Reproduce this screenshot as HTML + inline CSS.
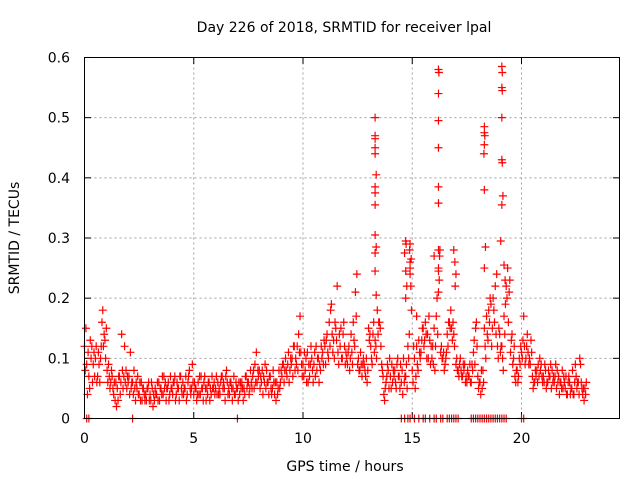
<!DOCTYPE html>
<html><head><meta charset="utf-8"><style>
html,body{margin:0;padding:0;background:#fff;}
svg{display:block;font-family:"DejaVu Sans","Liberation Sans",sans-serif;}
</style></head><body>
<svg id="chart" width="640" height="480" viewBox="0 0 640 480">
<rect width="640" height="480" fill="#fff"/>
<text x="344" y="32" font-size="14" text-anchor="middle">Day 226 of 2018, SRMTID for receiver lpal</text>
<text x="345" y="471" font-size="14" text-anchor="middle">GPS time / hours</text>
<text transform="translate(19,238) rotate(-90)" font-size="14" text-anchor="middle">SRMTID / TECUs</text>
<g id="grid"></g>
<g id="axes"></g>
<g id="marks"></g>
<rect x="84.5" y="57.5" width="535" height="361" fill="none" stroke="#000" stroke-width="1"/>
</svg>
<script>
const xTicks=[0,5,10,15,20];
const yTicks=[0,0.1,0.2,0.3,0.4,0.5,0.6];
const yTickLabels=["0","0.1","0.2","0.3","0.4","0.5","0.6"];
const hours=[0,0.1,0.2,0.3,0.4,0.5,0.6,0.7,0.8,0.9,1,1.1,1.2,1.3,1.4,1.5,1.6,1.7,1.8,1.9,2,2.1,2.2,2.3,2.4,2.5,2.6,2.7,2.8,2.9,3,3.1,3.2,3.3,3.4,3.5,3.6,3.7,3.8,3.9,4,4.1,4.2,4.3,4.4,4.5,4.6,4.7,4.8,4.9,5,5.1,5.2,5.3,5.4,5.5,5.6,5.7,5.8,5.9,6,6.1,6.2,6.3,6.4,6.5,6.6,6.7,6.8,6.9,7,7.1,7.2,7.3,7.4,7.5,7.6,7.7,7.8,7.9,8,8.1,8.2,8.3,8.4,8.5,8.6,8.7,8.8,8.9,9,9.1,9.2,9.3,9.4,9.5,9.6,9.7,9.8,9.9,10,10.1,10.2,10.3,10.4,10.5,10.6,10.7,10.8,10.9,11,11.1,11.2,11.3,11.4,11.5,11.6,11.7,11.8,11.9,12,12.1,12.2,12.3,12.4,12.5,12.6,12.7,12.8,12.9,13,13.1,13.2,13.3,13.4,13.5,13.6,13.7,13.8,13.9,14,14.1,14.2,14.3,14.4,14.5,14.6,14.7,14.8,14.9,15,15.1,15.2,15.3,15.4,15.5,15.6,15.7,15.8,15.9,16,16.1,16.2,16.3,16.4,16.5,16.6,16.7,16.8,16.9,17,17.1,17.2,17.3,17.4,17.5,17.6,17.7,17.8,17.9,18,18.1,18.2,18.3,18.4,18.5,18.6,18.7,18.8,18.9,19,19.1,19.2,19.3,19.4,19.5,19.6,19.7,19.8,19.9,20,20.1,20.2,20.3,20.4,20.5,20.6,20.7,20.8,20.9,21,21.1,21.2,21.3,21.4,21.5,21.6,21.7,21.8,21.9,22,22.1,22.2,22.3,22.4,22.5,22.6,22.7,22.8,22.9];
const tecuA=[.12,.09,.07,.10,.09,.10,.07,.06,.16,.14, .15,.09,.06,.05,.03,.05,.07,.14,.07,.08, .06,.11,.06,.05,.05,.04,.06,.05,.04,.05, .04,.05,.03,.04,.06,.05,.04,.06,.05,.04, .05,.06,.04,.05,.07,.06,.05,.04,.08,.05, .04,.05,.06,.04,.05,.07,.05,.06,.04,.05, .05,.06,.04,.07,.05,.08,.05,.06,.05,.04, .05,.04,.06,.05,.07,.06,.08,.07,.09,.06, .08,.06,.07,.05,.06,.07,.05,.04,.06,.08, .08,.09,.10,.09,.08,.10,.12,.09,.14,.11, .09,.08,.11,.07,.10,.09,.12,.10,.08,.11, .12,.14,.16,.19,.13,.15,.11,.12,.10,.12, .10,.12,.14,.16,.21,.09,.08,.07,.09,.10, .15,.12,.14,.13,.18,.16,.09,.04,.06,.08, .07,.06,.08,.09,.07,.06,.10,.07,.12,.25, .08,.10,.12,.13,.11,.15,.16,.14,.13,.10, .15,.17,.25,.11,.10,.09,.14,.16,.15,.14, .09,.08,.10,.07,.09,.06,.07,.06,.11,.15, .07,.06,.05,.15,.17,.18,.19,.20,.22,.12, .14,.12,.17,.22,.16,.11,.09,.07,.08,.10, .11,.17,.10,.11,.09,.07,.06,.08,.07,.09, .07,.08,.06,.07,.08,.06,.05,.07,.06,.05, .05,.04,.06,.05,.04,.07,.06,.09,.04,.05];
const tecuB=[.08,.04,.05,.12,.11,.12,.11,.10,.18,.13, .08,.07,.08,.04,.06,.03,.04,.08,.12,.05, .07,.05,.04,.03,.07,.06,.03,.04,.03,.06, .03,.02,.05,.06,.03,.04,.07,.03,.06,.07, .04,.07,.06,.03,.05,.04,.07,.06,.05,.09, .06,.03,.04,.07,.03,.05,.04,.03,.07,.06, .07,.04,.06,.05,.03,.06,.04,.05,.07,.06, .03,.06,.05,.04,.05,.04,.06,.08,.06,.08, .05,.08,.06,.08,.04,.05,.08,.06,.04,.05, .07,.06,.08,.11,.10,.07,.08,.12,.11,.09, .07,.10,.06,.09,.08,.11,.08,.06,.12,.09, .09,.11,.12,.14,.10,.13,.09,.15,.14,.09, .09,.08,.11,.13,.17,.10,.11,.09,.08,.06, .13,.10,.16,.12,.14,.15,.08,.03,.07,.05, .05,.08,.06,.10,.05,.08,.06,.09,.10,.22, .06,.05,.09,.11,.13,.12,.14,.10,.09,.12, .08,.20,.23,.12,.11,.10,.12,.15,.13,.12, .10,.07,.08,.09,.06,.08,.09,.09,.13,.16, .05,.04,.08,.12,.14,.16,.12,.18,.14,.10, .11,.10,.14,.20,.21,.13,.10,.06,.06,.09, .10,.12,.12,.09,.13,.05,.08,.06,.10,.07, .06,.05,.08,.09,.06,.07,.08,.04,.05,.07, .07,.06,.04,.08,.06,.05,.04,.06,.05,.04];
const tecuC=[.15,.11,.13,.06,.07,.06,.09,.12,.12,.10, .06,.05,.07,.06,.02,.07,.06,.05,.06,.07, .04,.06,.08,.06,.04,.03,.05,.03,.05,.03, .06,.04,.04,.03,.05,.07,.05,.05,.03,.05, .06,.03,.05,.07,.04,.05,.03,.07,.04,.06, .05,.04,.07,.05,.06,.03,.06,.05,.05,.04, .04,.05,.07,.06,.07,.04,.06,.03,.04,.05, .06,.05,.03,.07,.06,.05,.05,.05,.11,.07, .07,.04,.09,.06,.07,.04,.06,.03,.05,.06, .09,.08,.07,.06,.09,.12,.10,.08,.17,.07, .11,.06,.09,.12,.06,.07,.10,.09,.10,.13, .13,.10,.18,.11,.16,.22,.14,.10,.16,.11, .11,.10,.09,.12,.24,.08,.09,.10,.07,.08, .14,.09,.11,.10,.16,.12,.07,.05,.09,.10, .09,.07,.05,.07,.09,.04,.07,.05,.14,.18, .12,.07,.08,.10,.15,.13,.10,.17,.12,.09, .12,.14,.28,.10,.08,.11,.16,.18,.16,.22, .08,.09,.07,.08,.07,.07,.06,.08,.09,.12, .06,.08,.06,.10,.13,.20,.15,.16,.24,.15, .12,.08,.19,.25,.23,.14,.12,.08,.07,.12, .13,.09,.14,.10,.11,.06,.07,.09,.08,.06, .09,.06,.07,.05,.07,.09,.06,.06,.08,.06, .04,.07,.05,.04,.09,.06,.10,.05,.03,.06];
const spikeHours=[13.3,13.3,13.3,13.3,13.3,13.35,13.3,13.3,13.3,13.3,13.35,13.3,13.3,13.35, 16.2,16.22,16.2,16.2,16.2,16.2,16.2,16.2,16.25,16.2,16.2, 18.3,18.3,18.32,18.3,18.28,18.3,18.35,18.3, 19.1,19.12,19.1,19.12,19.1,19.1,19.12,19.15,19.1,19.05,19.2,19.25, 14.7,14.72,14.65,14.7,14.75,14.7, 14.9,14.88,14.95,14.9,14.9, 16.9,16.95,15.2,16.0,17.0];
const spikeTecu=[.50,.47,.465,.45,.44,.405,.385,.375,.355,.305,.285,.275,.245,.205, .58,.575,.54,.495,.45,.385,.358,.28,.27,.245,.21, .485,.475,.47,.455,.44,.38,.285,.25, .585,.575,.55,.545,.50,.43,.425,.37,.355,.295,.255,.23, .295,.29,.275,.245,.22,.20, .29,.28,.265,.26,.24, .28,.26,.17,.27,.24];
const zeroHours=[0.1,0.2,2.2,7.0,14.5,14.65,14.8,14.9,15.1,15.3,15.5,15.6,15.8,16.0,16.1,16.3,16.4,16.6,16.7,16.8,16.9,17.0,17.1,17.7,17.8,17.9,18.0,18.1,18.2,18.3,18.4,18.5,18.6,18.7,18.8,18.9,19.0,19.1,19.2,19.3,20.0,20.1];

const NS="http://www.w3.org/2000/svg";
const X0=84.5, PXH=21.85, Y0=418.5, PXY=601.7;
function xs(h){return X0+h*PXH;}
function ys(v){return Y0-v*PXY;}
const grid=document.getElementById('grid'), axes=document.getElementById('axes'), marks=document.getElementById('marks');
function mk(tag,attrs,parent){const e=document.createElementNS(NS,tag);for(const k in attrs)e.setAttribute(k,attrs[k]);parent.appendChild(e);return e;}
xTicks.forEach(function(t){
  const x=xs(t);
  if(t>0){const g=mk('line',{x1:x,x2:x,y1:57.5,y2:418.5,stroke:'#a0a0a0','stroke-dasharray':'2,3'},grid);
    
    }
  mk('line',{x1:x,x2:x,y1:418.5,y2:412,stroke:'#000'},axes);
  mk('line',{x1:x,x2:x,y1:57.5,y2:64,stroke:'#000'},axes);
  const tx=mk('text',{x:x,y:443,'font-size':14,'text-anchor':'middle'},axes);
  tx.textContent=String(t);
  
  
});
yTicks.forEach(function(t,i){
  const y=ys(t);
  if(t>0&&t<0.6){const g=mk('line',{x1:84.5,x2:619.5,y1:y,y2:y,stroke:'#a0a0a0','stroke-dasharray':'2,3'},grid);
    
    }
  mk('line',{x1:84.5,x2:91,y1:y,y2:y,stroke:'#000'},axes);
  mk('line',{x1:619.5,x2:613,y1:y,y2:y,stroke:'#000'},axes);
  const tx=mk('text',{x:70,y:y+5,'font-size':14,'text-anchor':'end'},axes);
  tx.textContent=yTickLabels[i];
  
  
});
let d='';
function plus(h,v){const x=xs(h),y=ys(v);d+='M'+(x-4)+' '+y+'h8M'+x+' '+(y-4)+'v8';}
hours.forEach(function(h,i){plus(h,tecuA[i]);plus(h+0.035,tecuB[i]);plus(h+0.065,tecuC[i]);});
spikeHours.forEach(function(h,i){plus(h,spikeTecu[i]);});
zeroHours.forEach(function(h){plus(h,0);});
const p=mk('path',{d:d,stroke:'#ff0000','stroke-width':1.2,fill:'none'},marks);


</script>
</body></html>
